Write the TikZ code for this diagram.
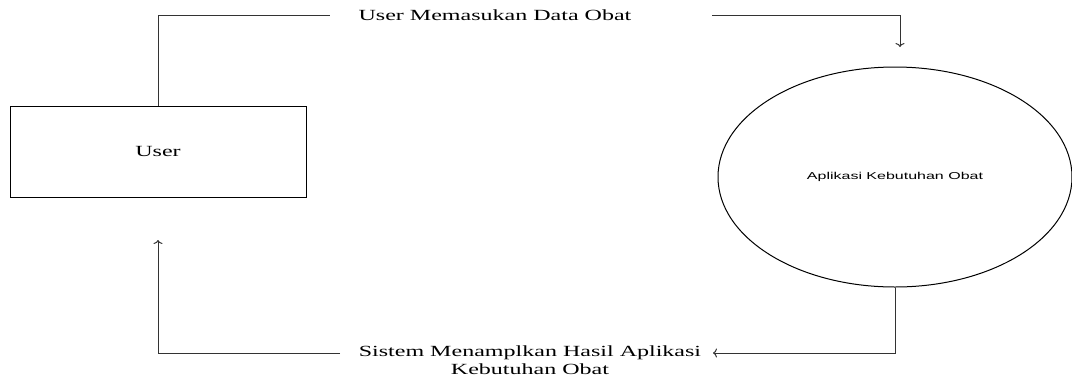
\documentclass[tikz,border=0pt]{standalone}
\usepackage{fontspec}
\setmainfont{Liberation Serif}
\newfontfamily\flowfont[FakeStretch=1.55]{Liberation Serif}
\newfontfamily\procfont[FakeStretch=1.6]{Liberation Sans}
\usetikzlibrary{shapes.geometric,arrows.meta}

\begin{document}
\begin{tikzpicture}[x=1pt,y=-1pt,
        entity/.style={draw, line width=1pt, minimum width=296pt, minimum height=91pt,
            font=\flowfont\fontsize{15.5}{18}\selectfont},
        process/.style={draw, line width=1pt, ellipse, minimum width=354pt, minimum height=220pt,
            font=\procfont\fontsize{10}{12}\selectfont},
        flowlabel/.style={inner sep=0pt, align=center,
            font=\flowfont\fontsize{15.5}{18}\selectfont},
        flow/.style={line width=1pt, black!80},
        flowarrow/.style={flow, -{To[length=4pt,width=9pt]}}]
    \useasboundingbox (0,0) rectangle (1072,376);

    \node[entity] (user) at (158,151.5) {User};
    \node[process] (app) at (895,177) {Aplikasi Kebutuhan Obat};

    \node[flowlabel] (input) at (495,15) {User Memasukan Data Obat};
    \node[flowlabel] (output) at (530,360) {Sistem Menamplkan Hasil Aplikasi\\Kebutuhan Obat};

    \coordinate (inA) at (330,15);
    \coordinate (inB) at (712,15);
    \coordinate (inEnd) at (900,47);
    \coordinate (outA) at (713,353);
    \coordinate (outB) at (340,353);
    \coordinate (outEnd) at (158,240);

    \draw[flow] (user.north) |- (inA);
    \draw[flowarrow] (inB) -| (inEnd);
    \draw[flowarrow] (app.south) |- (outA);
    \draw[flowarrow] (outB) -| (outEnd);
\end{tikzpicture}
\end{document}
